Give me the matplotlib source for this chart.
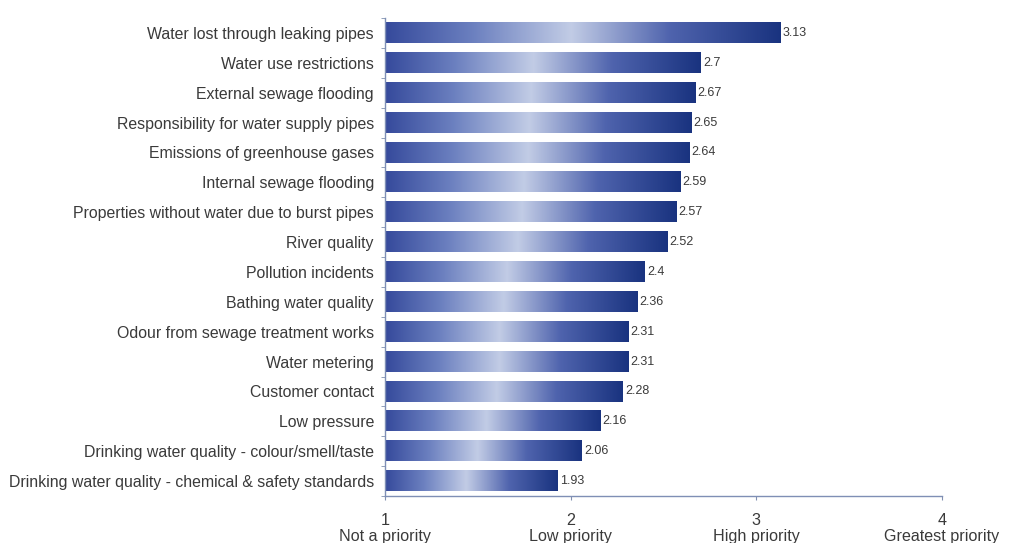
import numpy as np
import matplotlib.pyplot as plt
from matplotlib.colors import LinearSegmentedColormap

categories = [
    "Water lost through leaking pipes",
    "Water use restrictions",
    "External sewage flooding",
    "Responsibility for water supply pipes",
    "Emissions of greenhouse gases",
    "Internal sewage flooding",
    "Properties without water due to burst pipes",
    "River quality",
    "Pollution incidents",
    "Bathing water quality",
    "Odour from sewage treatment works",
    "Water metering",
    "Customer contact",
    "Low pressure",
    "Drinking water quality - colour/smell/taste",
    "Drinking water quality - chemical & safety standards",
]
scores = [3.13, 2.7, 2.67, 2.65, 2.64, 2.59, 2.57, 2.52, 2.4, 2.36,
          2.31, 2.31, 2.28, 2.16, 2.06, 1.93]
value_labels = ["3.13", "2.7", "2.67", "2.65", "2.64", "2.59", "2.57", "2.52",
                "2.4", "2.36", "2.31", "2.31", "2.28", "2.16", "2.06", "1.93"]
tick_values = [1, 2, 3, 4]
tick_labels = ["1\nNot a priority", "2\nLow priority", "3\nHigh priority",
               "4\nGreatest priority"]

plt.rcParams['font.family'] = ['Liberation Sans', 'DejaVu Sans']

bar_cmap = LinearSegmentedColormap.from_list(
    "bar_shade",
    [(0.0, (0.21, 0.29, 0.61)),
     (0.22, (0.42, 0.50, 0.75)),
     (0.47, (0.76, 0.80, 0.90)),
     (0.72, (0.31, 0.39, 0.68)),
     (1.0, (0.10, 0.20, 0.50))])

fig = plt.figure(figsize=(10.27, 5.43), dpi=100)
ax = fig.add_axes([385 / 1027, 1 - 496 / 543, (942 - 385) / 1027, (496 - 18) / 543])

base = 1.0
bar_h = 0.68
grad = np.linspace(0, 1, 256).reshape(1, -1)
for i, (v, lab) in enumerate(zip(scores, value_labels)):
    ax.imshow(grad, cmap=bar_cmap, aspect='auto', interpolation='bicubic',
              extent=(base, v, i + bar_h / 2, i - bar_h / 2), zorder=2)
    ax.text(v + 0.012, i, lab, va='center', ha='left', fontsize=9, color='#3a3a3a')

ax.set_xlim(1, 4)
ax.set_ylim(15.47, -0.5)
ax.set_yticks(range(len(categories)))
ax.set_yticklabels(categories, fontsize=11.4, color='#3a3a3a')
ax.set_yticks(np.arange(-0.5, len(categories), 1), minor=True)
ax.tick_params(axis='y', which='major', length=0, pad=8)
ax.tick_params(axis='y', which='minor', length=3, color='#8090b0')
ax.set_xticks(tick_values)
ax.set_xticklabels(tick_labels, fontsize=11.6, color='#3a3a3a', linespacing=1.1)
ax.tick_params(axis='x', length=3, color='#8090b0', pad=9)

for side in ['top', 'right']:
    ax.spines[side].set_visible(False)
for side in ['left', 'bottom']:
    ax.spines[side].set_color('#7f8fb5')
    ax.spines[side].set_linewidth(1.0)

fig.savefig('out.png', dpi=100, facecolor='white')
